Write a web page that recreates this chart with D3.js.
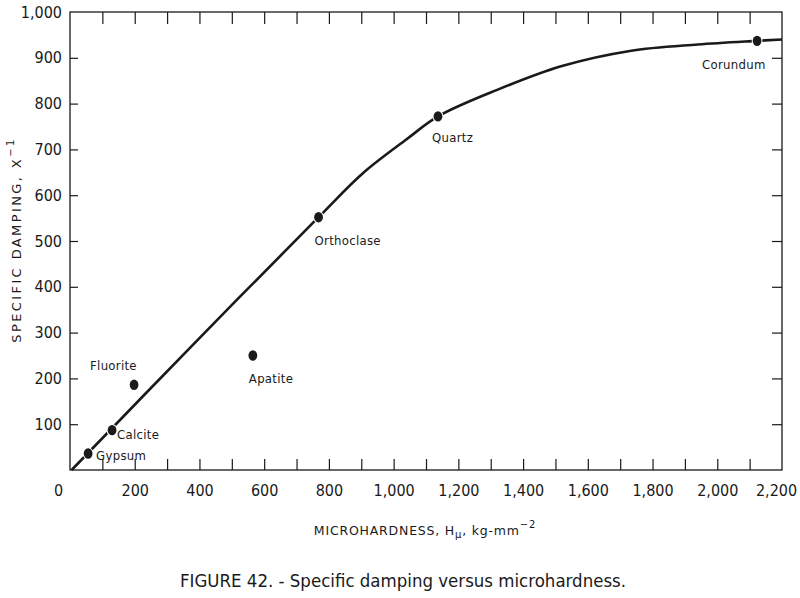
<!DOCTYPE html>
<html><head><meta charset="utf-8">
<script src="https://cdn.jsdelivr.net/npm/d3@7"></script>
<style>body{margin:0;background:#fff}svg{display:block}</style>
</head><body><svg id="c" width="800" height="598"></svg>
<script>
// ---- data ----
const minerals = ["Gypsum","Calcite","Fluorite","Apatite","Orthoclase","Quartz","Corundum"];
const hardness = [56,130,198,565,768,1137,2123];
const damping  = [36,87,186,250,552,772,937];
const curveHardness = [5,400,768,905,1040,1137,1320,1520,1730,1940,2123,2200];
const curveDamping  = [0,288,552,648,722,772,830,882,915,929,937,940];
const xMinorTicks = d3.range(100,2200,100);
const xTickLabels = [0,200,400,600,800,1000,1200,1400,1600,1800,2000,2200];
const yMinorTicks = d3.range(100,1000,100);
const yTickLabels = [100,200,300,400,500,600,700,800,900,1000];

// ---- layout ----
const L=70,R=782,T=12,B=470;
const svg=d3.select("#c");
const x=d3.scaleLinear().domain([0,2200]).range([L,R]);
const y=d3.scaleLinear().domain([0,1000]).range([B,T]);
const ink="#1a1a1a";
const fnt="'DejaVu Sans Condensed','DejaVu Sans',sans-serif";

// frame
svg.append("rect").attr("x",L).attr("y",T).attr("width",R-L).attr("height",B-T)
  .attr("fill","none").attr("stroke",ink).attr("stroke-width",1.3);

function styleAxis(g){g.select(".domain").remove();g.selectAll("line").attr("stroke",ink).attr("stroke-width",1.2);}
svg.append("g").attr("transform",`translate(0,${B})`)
  .call(d3.axisBottom(x).tickValues(xMinorTicks).tickSizeInner(-11).tickFormat("")).call(styleAxis);
svg.append("g").attr("transform",`translate(0,${T})`)
  .call(d3.axisTop(x).tickValues(xMinorTicks).tickSizeInner(-12).tickFormat("")).call(styleAxis);
svg.append("g").attr("transform",`translate(${L},0)`)
  .call(d3.axisLeft(y).tickValues(yMinorTicks).tickSizeInner(-8).tickFormat("")).call(styleAxis);
svg.append("g").attr("transform",`translate(${R},0)`)
  .call(d3.axisRight(y).tickValues(yMinorTicks).tickSizeInner(-10).tickFormat("")).call(styleAxis);

// labels
const xl=svg.append("g").attr("transform",`translate(0,${B})`)
  .call(d3.axisBottom(x).tickValues(xTickLabels).tickSize(0).tickPadding(15).tickFormat(d3.format(",")));
xl.select(".domain").remove();
xl.selectAll("text").attr("font-family",fnt).attr("font-size",16).attr("fill",ink)
  .attr("dx",d=>d===0?-12:(d===2200?-6:0));
const yl=svg.append("g").attr("transform",`translate(${L},0)`)
  .call(d3.axisLeft(y).tickValues(yTickLabels).tickSize(0).tickPadding(8).tickFormat(d3.format(",")));
yl.select(".domain").remove();
yl.selectAll("text").attr("font-family",fnt).attr("font-size",16).attr("fill",ink);

// curve
const pts=curveHardness.map((h,i)=>[h,curveDamping[i]]);
svg.append("path").datum(pts)
  .attr("d",d3.line().x(d=>x(d[0])).y(d=>y(d[1])).curve(d3.curveCatmullRom.alpha(0.5)))
  .attr("fill","none").attr("stroke",ink).attr("stroke-width",2.6);

// points
const labelDx=[8,5,-44,-4,-4,-6,-55], labelDy=[6,9,-15,27,28,26,28];
const pg=svg.append("g");
minerals.forEach((m,i)=>{
  pg.append("ellipse").attr("cx",x(hardness[i])).attr("cy",y(damping[i]))
    .attr("rx",4.4).attr("ry",5.2).attr("fill",ink)
    .attr("stroke","#fff").attr("stroke-width",2).attr("paint-order","stroke");
  pg.append("text").attr("x",x(hardness[i])+labelDx[i]).attr("y",y(damping[i])+labelDy[i])
    .attr("font-family",fnt).attr("font-size",13).attr("fill",ink).attr("letter-spacing",0.3)
    .text(m);
});

// axis titles
const xt=svg.append("text").attr("x",425).attr("y",535).attr("text-anchor","middle")
  .attr("font-family","'DejaVu Sans',sans-serif").attr("font-size",12.5).attr("letter-spacing",0.8).attr("fill",ink);
xt.append("tspan").text("MICROHARDNESS, H");
xt.append("tspan").attr("font-size",10).attr("dy",3).text("μ");
xt.append("tspan").attr("dy",-3).text(", kg-mm");
xt.append("tspan").attr("font-size",10).attr("dy",-7).text("−2");

const yt=svg.append("text").attr("transform","translate(21,240) rotate(-90)").attr("text-anchor","middle")
  .attr("font-family","'DejaVu Sans',sans-serif").attr("font-size",13).attr("letter-spacing",2.4).attr("fill",ink);
yt.append("tspan").text("SPECIFIC DAMPING, X");
yt.append("tspan").attr("font-size",10).attr("dy",-7).text("−1");

// caption
svg.append("text").attr("x",403).attr("y",587).attr("text-anchor","middle")
  .attr("font-family",fnt).attr("font-size",18).attr("fill",ink)
  .attr("textLength",446).attr("lengthAdjust","spacingAndGlyphs")
  .text("FIGURE 42. - Specific damping versus microhardness.");
</script></body></html>
